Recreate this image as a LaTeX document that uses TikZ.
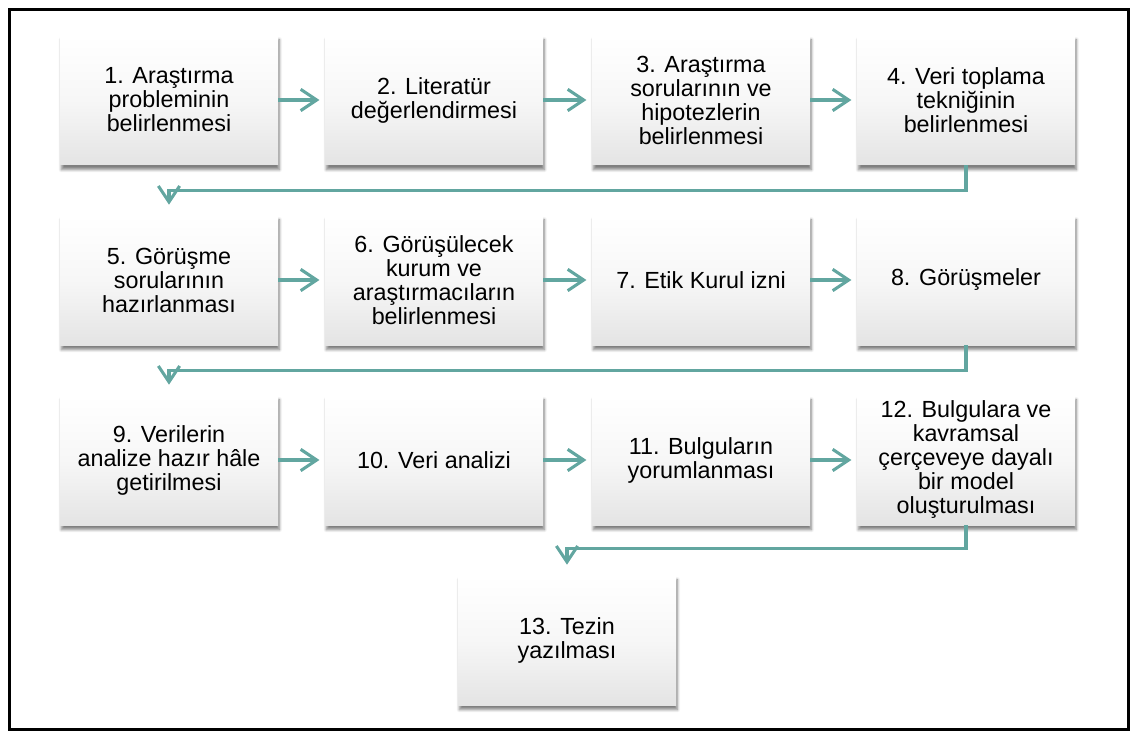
\documentclass[tikz,border=0pt]{standalone}
\usepackage{fontspec}
\setmainfont{Liberation Sans}
\usetikzlibrary{arrows.meta,shadows.blur}
\definecolor{flow}{RGB}{98,166,160}
\definecolor{boxlow}{RGB}{228,228,228}
\definecolor{boxmid}{RGB}{247,247,247}
\tikzset{
  stepbox/.style={minimum width=163.5pt, minimum height=97.5pt, inner sep=2pt,
    align=center, font=\fontsize{17.5}{18}\selectfont,
    top color=white, bottom color=boxlow, middle color=boxmid, draw=none,
    blur shadow={shadow xshift=1pt, shadow yshift=-3.5pt, shadow blur steps=6, shadow opacity=50}},
  link/.style={draw=flow, line width=2.3pt,
    -{Straight Barb[length=12pt, width=16pt]}},
}
\begin{document}
\begin{tikzpicture}[x=0.75pt, y=-0.75pt]
\useasboundingbox (0,0) rectangle (1132,738);
\draw[line width=2.4pt] (9.5,9.5) rectangle (1128.5,729.5);

% first row
\node[stepbox] (b1) at (169,100) {1. Araştırma\\probleminin\\belirlenmesi};
\node[stepbox] (b2) at (434,100) {2. Literatür\\değerlendirmesi};
\node[stepbox] (b3) at (701,100) {3. Araştırma\\sorularının ve\\hipotezlerin\\belirlenmesi};
\node[stepbox] (b4) at (966,100) {4. Veri toplama\\tekniğinin\\belirlenmesi};
% second row
\node[stepbox] (b5) at (169,280) {5. Görüşme\\sorularının\\hazırlanması};
\node[stepbox] (b6) at (434,280) {6. Görüşülecek\\kurum ve\\araştırmacıların\\belirlenmesi};
\node[stepbox] (b7) at (701,280) {7. Etik Kurul izni};
\node[stepbox] (b8) at (966,280) {8. Görüşmeler};
% third row
\node[stepbox] (b9) at (169,460) {9. Verilerin\\analize hazır hâle\\getirilmesi};
\node[stepbox] (b10) at (434,460) {10. Veri analizi};
\node[stepbox] (b11) at (701,460) {11. Bulguların\\yorumlanması};
\node[stepbox] (b12) at (966,460) {12. Bulgulara ve\\kavramsal\\çerçeveye dayalı\\bir model\\oluşturulması};
% last step
\node[stepbox] (b13) at (567,640) {13. Tezin\\yazılması};

% links within rows
\foreach \a/\b in {b1/b2,b2/b3,b3/b4,b5/b6,b6/b7,b7/b8,b9/b10,b10/b11,b11/b12}
  \draw[link, shorten >=4pt] (\a.east) -- (\b.west);

% links between rows
\draw[link, shorten >=7.5pt] (b4.south) -- ++(0,25) -| (b5.north);
\draw[link, shorten >=7.5pt] (b8.south) -- ++(0,25) -| (b9.north);
\draw[link, shorten >=7.5pt] (b12.south) -- ++(0,23) -| (b13.north);
\end{tikzpicture}
\end{document}
